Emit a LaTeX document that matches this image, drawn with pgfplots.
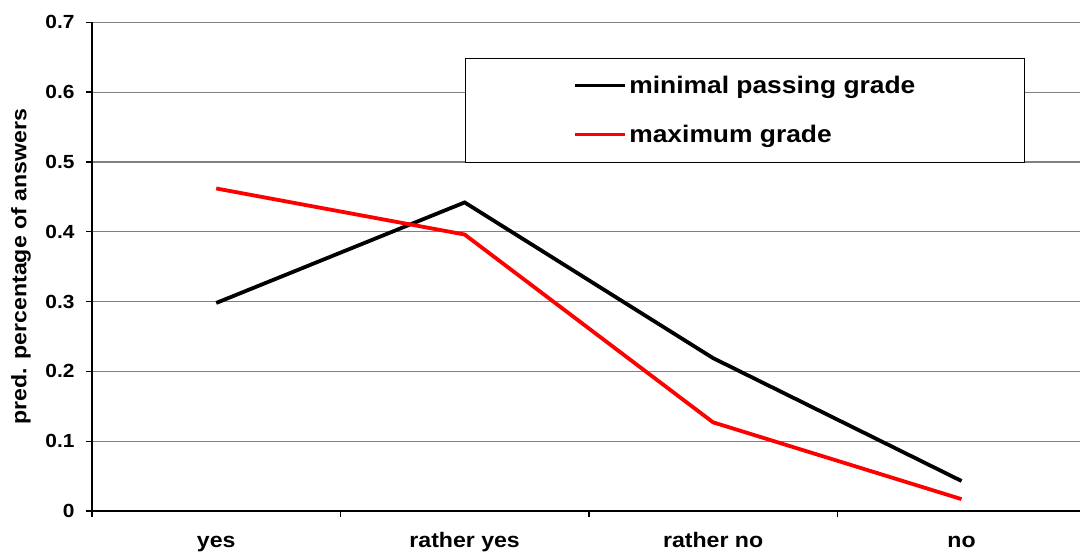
\documentclass[border=0pt]{standalone}
\usepackage{fontspec}
\setmainfont{Liberation Sans}[FakeStretch=1.1]
\usepackage{pgfplots}
\pgfplotsset{compat=1.18}

\begin{document}
\begin{tikzpicture}
\begin{axis}[
  scale only axis,
  width=988pt, height=488.7pt,
  xmin=-0.5, xmax=3.477,
  ymin=0, ymax=0.7,
  axis x line=bottom, axis y line=left,
  axis line style={-, black, line width=1.3pt},
  tick align=outside,
  major tick length=6pt, minor tick length=6pt,
  xtick={0,1,2,3},
  xticklabels={yes, rather yes, rather no, no},
  minor xtick={-0.5,0.5,1.5,2.5},
  major x tick style={draw=none},
  minor x tick style={black, line width=1.3pt},
  ytick={0,0.1,0.2,0.3,0.4,0.5,0.6,0.7},
  ytick style={black, line width=1.3pt},
  ymajorgrids,
  grid style={gray, line width=1.2pt},
  /pgf/number format/assume math mode=true,
  /pgf/number format/fixed,
  /pgf/number format/precision=1,
  yticklabel style={font=\fontsize{19}{22}\selectfont\bfseries, xshift=-8pt},
  xticklabel style={font=\fontsize{21}{24}\selectfont\bfseries,
    text height=15pt, text depth=4pt, yshift=-12pt},
  every axis y label/.style={at={(axis description cs:-0.0719,0.5)}, rotate=90, anchor=center,
    font=\fontsize{21}{24}\selectfont\bfseries},
  ylabel={pred. percentage of answers},
  legend style={at={(axis description cs:0.6614,0.8205)}, anchor=center,
    draw=black, line width=1pt, fill=white,
    minimum width=559pt, minimum height=104pt,
    nodes={minimum width=0pt, minimum height=0pt, inner sep=2pt},
    font=\fontsize{24}{28}\selectfont\bfseries, row sep=26pt, column sep=0pt},
  legend cell align=left,
  legend image code/.code={\draw[#1] (0pt,0pt) -- (50pt,0pt);},
]
% predicted share of answers, by category
\addplot[black, line width=3.8pt] coordinates {(0,0.298) (1,0.442) (2,0.219) (3,0.043)};
\addlegendentry{minimal passing grade}
\addplot[red, line width=3.8pt] coordinates {(0,0.462) (1,0.396) (2,0.127) (3,0.017)};
\addlegendentry{maximum grade}
\end{axis}
\pgfresetboundingbox
\path[use as bounding box] ([xshift=-92pt,yshift=-45pt]current axis.south west) rectangle ([yshift=22.3pt]current axis.north east);
\end{tikzpicture}
\end{document}
